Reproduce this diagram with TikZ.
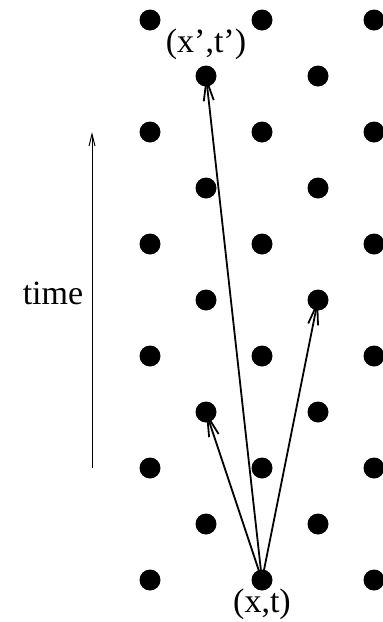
\documentclass[tikz,border=0pt]{standalone}
\usepackage{fontspec}
\setmainfont{Liberation Serif}
\usetikzlibrary{arrows.meta,positioning}

\begin{document}
\begin{tikzpicture}[x=1pt,y=-1pt,
  every node/.style={font=\fontsize{34}{38}\selectfont},
  site/.style={circle,fill=black,inner sep=0pt,minimum size=21pt},
  hop/.style={line width=1.8pt,-{Straight Barb[length=21pt,width=10pt,line width=1.8pt]}},
  axis/.style={line width=1pt,-{Straight Barb[length=12pt,width=6pt]}},
  lbl/.style={inner sep=0pt}
]
\useasboundingbox (0,0) rectangle (383,622);

% lattice of sites (checkerboard)
\foreach \c in {0,...,4}{
  \foreach \r in {0,...,10}{
    \pgfmathtruncatemacro{\parity}{mod(\c+\r,2)}
    \ifnum\parity=0
      \node[site] (s-\c-\r) at (150+56*\c,20+56*\r) {};
    \fi
  }
}

% labels
\node[lbl] (xt)  at (262,604) {(x,t)};
\node[lbl] (xpt) at (206,44)  {(x',t')};

% hops from (x,t)
\draw[hop] (s-2-10.center) -- (s-1-1.center);
\draw[hop] (s-2-10.center) -- (s-3-5.center);
\draw[hop] (s-2-10.center) -- (s-1-7.center);

% time axis
\coordinate (t0) at (92,468);
\coordinate (t1) at (92,132);
\draw[axis] (t0) -- (t1);
\node[lbl] (tlbl) at (53,293) {time};
\end{tikzpicture}
\end{document}
